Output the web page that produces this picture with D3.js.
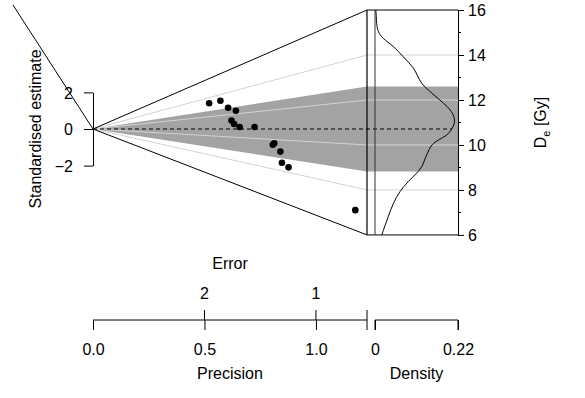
<!DOCTYPE html>
<html>
<head>
<meta charset="utf-8">
<script src="https://cdn.jsdelivr.net/npm/d3@7"></script>
<style>
  html, body { margin: 0; padding: 0; background: #fff; }
  svg text { font-family: "Liberation Sans", Arial, sans-serif; font-size: 16px; fill: #000; }
</style>
</head>
<body>
<svg id="chart" width="585" height="398"></svg>
<script>
// Equivalent doses (Gy) and their standard errors
const de = [13.41, 13.41, 12.63, 12.27, 11.46, 11.14, 10.88, 10.86, 9.64, 9.75, 9.24, 8.53, 8.32, 6.94];
const se = [1.92, 1.75, 1.65, 1.56, 1.61, 1.58, 1.52, 1.38, 1.24, 1.23, 1.19, 1.18, 1.14, 0.85];

// Kernel density estimate of De
const kdeDe      = [16.0, 15.85, 15.41, 15.04, 14.74, 14.37, 13.92, 13.41, 12.74, 12.30, 11.85, 11.56, 11.26, 10.96, 10.70, 10.44, 10.22, 10.00, 9.56, 9.04, 8.74, 8.37, 7.92, 7.41, 6.81, 6.0];
const kdeDensity = [0.002, 0.003, 0.0045, 0.009, 0.022, 0.049, 0.075, 0.102, 0.124, 0.151, 0.182, 0.199, 0.209, 0.210, 0.203, 0.190, 0.168, 0.151, 0.137, 0.124, 0.110, 0.088, 0.066, 0.049, 0.035, 0.018];

const centralDe = 10.71;
const deLimits = [6, 16];
const bandDe = [8.82, 12.6];
const gridDe = [8, 10, 12, 14];
const precisionMax = 1.229;

const precisionTicks = [0, 0.5, 1.0];
const errorTicks = [2, 1];
const densityTicks = [0, 0.22];
const deTicks = [6, 8, 10, 12, 14, 16];
const deMinorTicks = [7, 9, 11, 13, 15];
const stdTicks = [-2, 0, 2];

// guide ray running off to the upper left of the origin
const leftRay = { precision: -0.359, std: 6.78 };

const svg = d3.select("#chart");

const x = d3.scaleLinear().domain([0, precisionMax]).range([93, 367]);
const y = d3.scaleLinear().domain([-2, 2]).range([165.6, 92.4]);
const dx = d3.scaleLinear().domain([0, 0.22]).range([375, 458]);
// De axis on the right edge: where each radial line reaches maximum precision
const zy = z => y((z - centralDe) * precisionMax);

const xEnd = x(precisionMax);
const xRight = dx(0.22);
const x0 = x(0), y0 = y(0);

// confidence band (wedge, then flat across the density panel)
const bandPts = [
  [x0, y0],
  [xEnd, zy(bandDe[1])], [xRight, zy(bandDe[1])],
  [xRight, zy(bandDe[0])], [xEnd, zy(bandDe[0])]
];
svg.append("path")
  .attr("d", d3.line()(bandPts) + "Z")
  .attr("fill", "#a3a3a3").attr("stroke", "none");

// De grid lines
gridDe.forEach(z => {
  svg.append("path")
    .attr("d", d3.line()([[x0, y0], [xEnd, zy(z)], [xRight, zy(z)]]))
    .attr("fill", "none").attr("stroke", "#d3d3d3").attr("stroke-width", 1);
});

// central value line ending on the density curve
const kde = kdeDe.map((z, i) => ({ z, d: kdeDensity[i] })).sort((a, b) => a.z - b.z);
const bis = d3.bisector(p => p.z).left;
const kdeAt = z => {
  const i = bis(kde, z);
  const a = kde[i - 1], b = kde[i];
  return a.d + (b.d - a.d) * (z - a.z) / (b.z - a.z);
};
svg.append("path")
  .attr("d", d3.line()([[x0, y0], [xEnd, zy(centralDe)], [dx(kdeAt(centralDe)), zy(centralDe)]]))
  .attr("fill", "none").attr("stroke", "#000").attr("stroke-width", 1.1)
  .attr("stroke-dasharray", "4,3");

// outer wedge and density frame
const outline = "#000";
svg.append("path")
  .attr("d", d3.line()([[x0, y0], [xEnd, zy(deLimits[1])], [xRight, zy(deLimits[1])]]))
  .attr("fill", "none").attr("stroke", outline).attr("stroke-width", 1);
svg.append("path")
  .attr("d", d3.line()([[x0, y0], [xEnd, zy(deLimits[0])], [xRight, zy(deLimits[0])]]))
  .attr("fill", "none").attr("stroke", outline).attr("stroke-width", 1);
svg.append("line")
  .attr("x1", xEnd).attr("x2", xEnd).attr("y1", zy(deLimits[1])).attr("y2", zy(deLimits[0]))
  .attr("stroke", outline).attr("stroke-width", 1.2);
svg.append("line")
  .attr("x1", dx(0)).attr("x2", dx(0)).attr("y1", zy(deLimits[1])).attr("y2", zy(deLimits[0]))
  .attr("stroke", "#333").attr("stroke-width", 1);
svg.append("line")
  .attr("x1", x(leftRay.precision)).attr("y1", y(leftRay.std)).attr("x2", x0).attr("y2", y0)
  .attr("stroke", outline).attr("stroke-width", 1);

// density curve
svg.append("path")
  .datum(kde)
  .attr("d", d3.line().x(p => dx(p.d)).y(p => zy(p.z)).curve(d3.curveCatmullRom))
  .attr("fill", "none").attr("stroke", "#000").attr("stroke-width", 1);

// data points
svg.append("g").selectAll("circle")
  .data(de.map((v, i) => ({ p: 1 / se[i], s: (v - centralDe) / se[i] })))
  .join("circle")
  .attr("cx", d => x(d.p)).attr("cy", d => y(d.s)).attr("r", 3.3)
  .attr("fill", "#000");

// left axis (standardised estimate)
const yAxis = svg.append("g").attr("transform", `translate(${x0},0)`)
  .call(d3.axisLeft(y).tickValues(stdTicks).tickFormat(d3.format("d")).tickSize(9).tickSizeOuter(0).tickPadding(11));
yAxis.select(".domain").attr("stroke-width", 1);
yAxis.selectAll("text").attr("font-size", 16).attr("dy", "0.36em");
svg.append("text")
  .attr("transform", `translate(41,${y0}) rotate(-90)`)
  .attr("text-anchor", "middle").text("Standardised estimate");

// right axis (De)
const zScale = d3.scaleLinear().domain(deLimits).range([zy(deLimits[0]), zy(deLimits[1])]);
const rAxis = svg.append("g").attr("transform", `translate(${xRight},0)`)
  .call(d3.axisRight(zScale).tickValues(deTicks).tickSize(6).tickSizeOuter(0).tickPadding(4));
rAxis.selectAll("text").attr("font-size", 16).attr("dy", "0.36em");
svg.append("g").attr("transform", `translate(${xRight},0)`)
  .selectAll("line").data(deMinorTicks).join("line")
  .attr("x1", 0).attr("x2", 3).attr("y1", d => zScale(d)).attr("y2", d => zScale(d))
  .attr("stroke", "#000");
const deLab = svg.append("text")
  .attr("transform", `translate(546,${zy(11)}) rotate(-90)`)
  .attr("text-anchor", "middle");
deLab.append("tspan").text("D");
deLab.append("tspan").attr("font-size", 11).attr("dy", 4).text("e");
deLab.append("tspan").attr("dy", -4).text(" [Gy]");

// bottom axes
const axisY = 320;
const bx = d3.scaleLinear().domain([0, precisionMax]).range([93, 367]);
const pAxis = svg.append("g").attr("transform", `translate(0,${axisY})`)
  .call(d3.axisBottom(bx).tickValues(precisionTicks).tickFormat(d3.format(".1f")).tickSize(10).tickSizeOuter(0).tickPadding(14));
pAxis.selectAll("text").attr("font-size", 16);
pAxis.select(".domain").attr("d", `M93,0H${xEnd}`);
// tick marking the end of the precision range
svg.append("line").attr("x1", xEnd).attr("x2", xEnd).attr("y1", axisY - 10).attr("y2", axisY + 10).attr("stroke", "#000");

// error ticks above the precision axis
const eAxis = svg.append("g").attr("transform", `translate(0,${axisY})`);
eAxis.selectAll("line").data(errorTicks).join("line")
  .attr("x1", d => bx(1 / d)).attr("x2", d => bx(1 / d)).attr("y1", 0).attr("y2", -10)
  .attr("stroke", "#000");
eAxis.selectAll("text").data(errorTicks).join("text")
  .attr("x", d => bx(1 / d)).attr("y", -27).attr("dy", "0.36em")
  .attr("text-anchor", "middle").text(d => d);

const dAxis = svg.append("g").attr("transform", `translate(0,${axisY})`)
  .call(d3.axisBottom(dx).tickValues(densityTicks).tickFormat(d => d === 0 ? "0" : String(d)).tickSize(10).tickSizeOuter(0).tickPadding(14));
dAxis.selectAll("text").attr("font-size", 16);
dAxis.select(".domain").attr("d", `M${dx(0)},10V0H${dx(0.22)}V10`);

svg.selectAll(".tick text").attr("font-family", "Liberation Sans, Arial, sans-serif");
svg.selectAll(".domain, .tick line").attr("stroke", "#000");

svg.append("text").attr("x", (93 + xEnd) / 2).attr("y", 263).attr("dy", "0.36em")
  .attr("text-anchor", "middle").text("Error");
svg.append("text").attr("x", (93 + xEnd) / 2).attr("y", 373).attr("dy", "0.36em")
  .attr("text-anchor", "middle").text("Precision");
svg.append("text").attr("x", (dx(0) + dx(0.22)) / 2).attr("y", 373).attr("dy", "0.36em")
  .attr("text-anchor", "middle").text("Density");
</script>
</body>
</html>
